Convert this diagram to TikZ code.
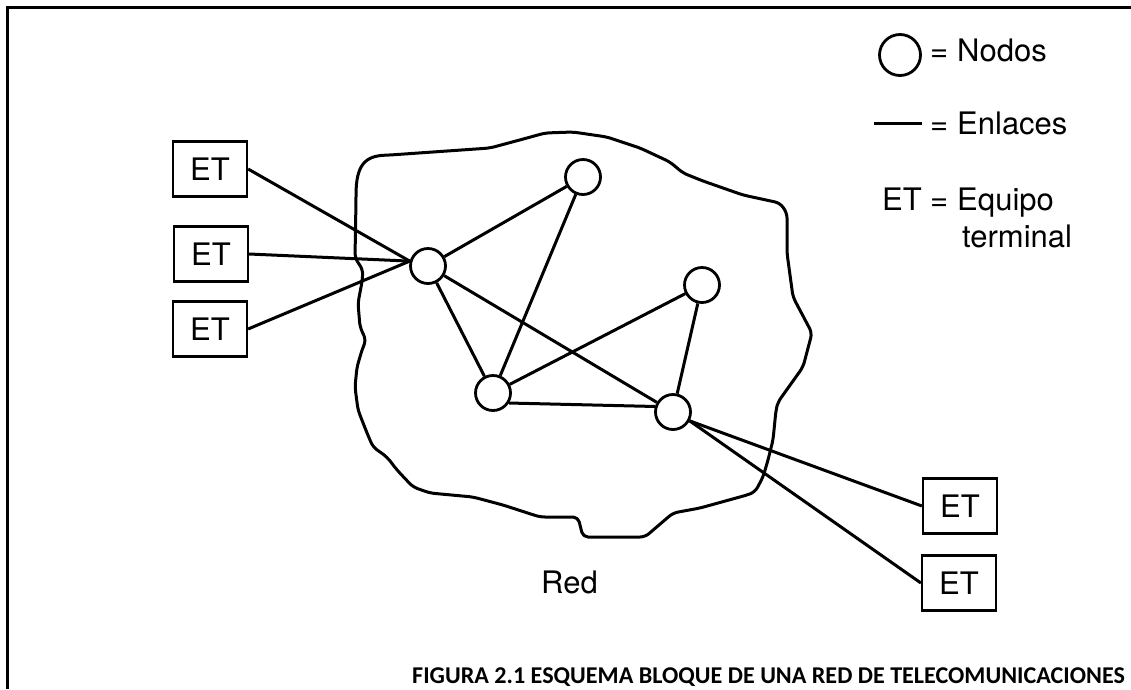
\documentclass[tikz,border=0pt]{standalone}
\usepackage{fontspec}
\setmainfont{TeX Gyre Heros}
\newfontfamily\capfont{Carlito}
\begin{document}
\begin{tikzpicture}[x=1pt,y=-1pt,
  netline/.style={line width=3pt,line join=round,line cap=round},
  nodo/.style={circle,draw,line width=2.8pt,minimum size=35pt,inner sep=0pt},
  equipo/.style={draw,line width=2.2pt,minimum width=74pt,minimum height=55pt,inner sep=0pt,font=\fontsize{31}{33}\selectfont},
  lbl/.style={inner sep=0pt,anchor=base west,font=\fontsize{31}{33}\selectfont},
  link/.style={line width=3pt}]
\useasboundingbox (0,0) rectangle (1131,689);

% frame (top and left edges)
\draw[line width=3pt] (7,689) -- (7,7) -- (1131,7);

% cloud outline of the network
\draw[netline,rounded corners=5pt]
  (355,258) -- (356,200) .. controls (356,165) and (365,156) .. (390,155)
  -- (490,148) -- (527,138) -- (545,133) -- (573,132) -- (607,137)
  -- (640,148) -- (670,162) -- (683,173) -- (703,181) -- (743,195)
  -- (780,203) -- (787,213) -- (787,253) -- (793,297) -- (812,333)
  -- (803,367) -- (778,402) -- (776,410) -- (773,440) -- (768,460)
  -- (763,477) -- (755,492) -- (747,495) -- (700,508) -- (673,513)
  -- (645,537) -- (583,537) -- (578,517) -- (540,517) -- (503,505)
  -- (473,497) -- (430,493) -- (413,487) -- (397,470) -- (387,457)
  -- (373,447) -- (367,433) -- (358,410) -- (355,387) -- (357,367)
  -- (362,350) -- (366,340) -- (360,327) -- (358,303) -- (362,282)
  -- (363,270) -- cycle;

% network nodes
\node[nodo] (n1) at (428,266) {};
\node[nodo] (n2) at (583,177) {};
\node[nodo] (n3) at (493,393) {};
\node[nodo] (n4) at (702,285) {};
\node[nodo] (n5) at (673,412) {};

% terminal equipment
\node[equipo] (etL1) at (210,169) {ET};
\node[equipo] (etL2) at (211,254) {ET};
\node[equipo] (etL3) at (210,329) {ET};
\node[equipo] (etR1) at (960,506) {ET};
\node[equipo] (etR2) at (959,583) {ET};

% links inside the network
\draw[link] (n1) -- (n2);
\draw[link] (n1) -- (n3);
\draw[link] (n1) -- (n5);
\draw[link] (n2) -- (n3);
\draw[link] (n3) -- (n4);
\draw[link] (n3.-32) -- (n5.163);
\draw[link] (n4) -- (n5);
% access links to the terminals
\draw[link] (etL1.east) -- (n1.165);
\draw[link] (etL2.east) -- (n1.165);
\draw[link] (etL3.east) -- (n1.165);
\draw[link] (n5.-28) -- (etR1.west);
\draw[link] (n5.-28) -- (etR2.west);

% network label
\node[lbl] (red) at (541,593) {Red};

% legend
\node[circle,draw,line width=2.8pt,minimum size=41pt,inner sep=0pt] (legnodo) at (900,55) {};
\coordinate (lega) at (874,123);
\coordinate (legb) at (922,123);
\draw[line width=3pt] (lega) -- (legb);
\node[lbl] (legET) at (882,210) {ET};
\node[lbl] (eq1) at (930,61) {=};
\node[lbl] (eq2) at (930,134) {=};
\node[lbl] (eq3) at (930,210) {=};
\node[lbl] (t1) at (957,61) {Nodos};
\node[lbl] (t2) at (957,134) {Enlaces};
\node[lbl] (t3) at (957,210) {Equipo};
\node[lbl] (t4) at (962,247) {terminal};

% caption
\node[inner sep=0pt,anchor=base west,font=\capfont\bfseries\fontsize{24.1}{27}\selectfont] (cap) at (412,683)
  {FIGURA 2.1 ESQUEMA BLOQUE DE UNA RED DE TELECOMUNICACIONES};
\end{tikzpicture}
\end{document}
